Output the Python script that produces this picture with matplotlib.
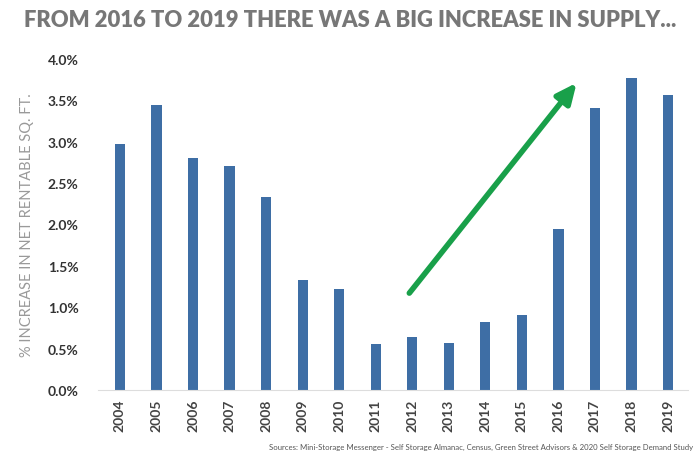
import numpy as np
from matplotlib import pyplot as plt

years = ['2004', '2005', '2006', '2007', '2008', '2009', '2010', '2011',
         '2012', '2013', '2014', '2015', '2016', '2017', '2018', '2019']
supply = [2.97, 3.44, 2.80, 2.71, 2.33, 1.33, 1.22, 0.56,
          0.64, 0.57, 0.82, 0.91, 1.95, 3.40, 3.77, 3.56]
yticks = [0.0, 0.5, 1.0, 1.5, 2.0, 2.5, 3.0, 3.5, 4.0]

plt.rcParams['font.family'] = ['Lato', 'DejaVu Sans']

fig = plt.figure(figsize=(7, 4.6), dpi=100)
ax = fig.add_axes([0.14, 0.15, 0.843, 0.72])

x = np.arange(len(years))
ax.bar(x, supply, width=0.28, color='#3e6ea5')

ax.set_xlim(-0.6, len(years) - 0.45)
ax.set_ylim(0, 4.0)
ax.set_xticks(x)
ax.set_xticklabels(years, rotation=90, fontsize=10, fontweight='bold', color='#444444')
ax.set_yticks(yticks)
ax.set_yticklabels(['%.1f%%' % v for v in yticks], fontsize=10, fontweight='bold', color='#333333')
ax.tick_params(length=0, axis='both')
ax.tick_params(axis='y', pad=14)
ax.tick_params(axis='x', pad=6)

for s in ['top', 'right', 'left']:
    ax.spines[s].set_visible(False)
ax.spines['bottom'].set_color('#dddddd')
ax.spines['bottom'].set_linewidth(0.8)

ax.set_ylabel('% INCREASE IN NET RENTABLE SQ. FT.', fontsize=10.5, color='#999999', labelpad=10)

# green trend arrow
ax.annotate('', xy=(12.5, 3.71), xytext=(7.92, 1.17),
            arrowprops=dict(arrowstyle='-|>,head_length=1.2,head_width=0.55',
                            color='#19a04a', lw=4, shrinkA=0, shrinkB=0))

fig.text(0.5, 0.955, 'FROM 2016 TO 2019 THERE WAS A BIG INCREASE IN SUPPLY...',
         ha='center', va='center', fontsize=15.8, fontweight='heavy', color='#777777')
fig.text(0.99, 0.02, 'Sources: Mini-Storage Messenger - Self Storage Almanac, Census, Green Street Advisors & 2020 Self Storage Demand Study',
         ha='right', va='bottom', fontsize=5.6, color='#555555')

plt.savefig('out.png', dpi=100)
